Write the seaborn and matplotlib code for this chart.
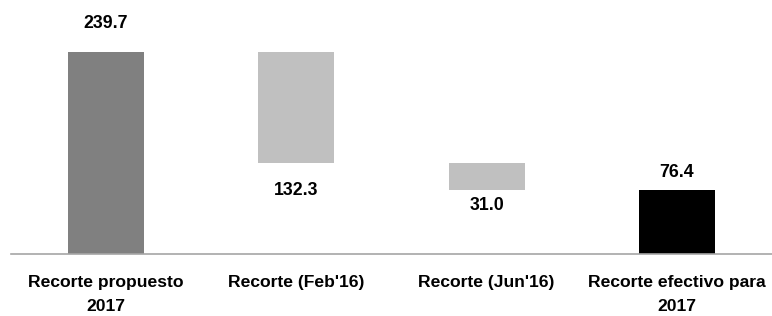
import matplotlib
matplotlib.use("Agg")
import matplotlib.pyplot as plt
import matplotlib.font_manager as fm
import seaborn as sns
import numpy as np
import pandas as pd

categories = ["Recorte propuesto\n2017", "Recorte (Feb'16)", "Recorte (Jun'16)", "Recorte efectivo para\n2017"]
values = [239.7, 132.3, 31.0, 76.4]
kinds = ["total", "decrease", "decrease", "total"]
colors = ["#808080", "#C0C0C0", "#C0C0C0", "#000000"]

# waterfall bases from the data
bottoms = []
level = 0.0
for v, k in zip(values, kinds):
    if k == "total":
        bottoms.append(0.0)
        level = v
    else:
        level = level - v
        bottoms.append(level)

sns.set_theme(style="white")
names = {f.name for f in fm.fontManager.ttflist}
if "Liberation Sans Narrow" in names:
    fam, lab_fs, val_fs = "Liberation Sans Narrow", 14.5, 15
else:
    fam, lab_fs, val_fs = "Liberation Sans", 12.6, 12.8
plt.rcParams["font.family"] = [fam, "DejaVu Sans"]

fig = plt.figure(figsize=(7.72, 3.16), dpi=100)
ax = fig.add_axes([11 / 772, 62 / 316, 1 - 11 / 772, 254 / 316])

df = pd.DataFrame({"cat": categories, "val": values})
sns.barplot(data=df, x="cat", y="val", order=categories, color="#808080",
            width=0.4, ax=ax, saturation=1)

for p, b, c in zip(ax.patches, bottoms, colors):
    p.set_y(b)
    p.set_facecolor(c)
    p.set_edgecolor("none")

ax.set_xlim(-0.5, 3.484)
ax.set_ylim(0, 301.4)
ax.set_xlabel("")
ax.set_ylabel("")
ax.set_yticks([])

for s in ["top", "right", "left"]:
    ax.spines[s].set_visible(False)
ax.spines["bottom"].set_color("#A6A6A6")
ax.spines["bottom"].set_linewidth(1.2)

ax.set_xticks(range(len(categories)))
ax.set_xticklabels(categories, fontsize=lab_fs, fontweight="bold", linespacing=1.8, color="black")
ax.tick_params(axis="x", which="major", length=0, pad=15)
ax.set_xticks([i - 0.5 for i in range(len(categories) + 1)], minor=True)
ax.tick_params(axis="x", which="minor", length=8, width=1.2, color="#A6A6A6", direction="out")

# value labels
offsets = [22, -18, -10, 14]  # points
for i, (v, b, k, off) in enumerate(zip(values, bottoms, kinds, offsets)):
    anchor = b + v if off > 0 else b
    ax.annotate(f"{v:.1f}", xy=(i, anchor), xytext=(0, off), textcoords="offset points",
                ha="center", va="center_baseline", fontsize=val_fs, fontweight="bold", color="black")

fig.savefig("out.png", dpi=100)
